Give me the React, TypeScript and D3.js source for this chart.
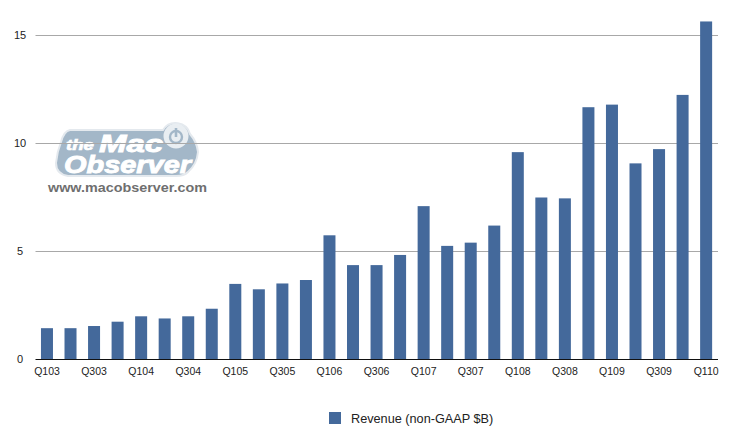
import React from "react";
import * as d3 from "d3";

const quarters = ["Q103","Q203","Q303","Q403","Q104","Q204","Q304","Q404","Q105","Q205","Q305","Q405","Q106","Q206","Q306","Q406","Q107","Q207","Q307","Q407","Q108","Q208","Q308","Q408","Q109","Q209","Q309","Q409","Q110"];
const revenue = [1.45,1.45,1.55,1.75,2.0,1.9,2.0,2.35,3.5,3.25,3.52,3.68,5.75,4.37,4.37,4.84,7.1,5.26,5.41,6.2,9.6,7.5,7.46,11.68,11.8,9.08,9.74,12.25,15.65];
const yTicks = [0,5,10,15];
const seriesName = "Revenue (non-GAAP $B)";
const sans = "Liberation Sans, Arial, sans-serif";

export default function App() {
  const x = d3.scaleBand<string>().domain(quarters).range([35.2, 717.9]).paddingInner(0.49).paddingOuter(0.245);
  const y = d3.scaleLinear().domain([0, 15]).range([359.5, 35.5]);
  const logoBlue = "#a3b7c8";
  return (
    <svg width={753} height={434} style={{ position: "absolute", left: 0, top: 0, background: "#fff" }}>
      {/* watermark */}
      <g>
        <path d="M70 130 L163 130 A15 15 0 0 1 190 134 Q197 142 198 152 Q197 164 188 172 Q184 176 176 176 L68 176 Q56 174 56 163 Q57 152 61 142 Q64 131 70 130 Z" fill={logoBlue} stroke="#e4e9ee" strokeWidth={2} />
        <circle cx={176} cy={136} r={12.5} fill="#e9eef2" />
        <circle cx={176} cy={137} r={6} fill="none" stroke={logoBlue} strokeWidth={2.4} />
        <line x1={176} y1={128} x2={176} y2={137} stroke={logoBlue} strokeWidth={2.6} />
        <text x={66} y={150} fill="#fff" stroke="#fff" strokeWidth={0.7} fontFamily={sans} fontWeight={700} fontStyle="italic" fontSize={15} textLength={28} lengthAdjust="spacingAndGlyphs">the</text>
        <text x={99} y={152} fill="#fff" stroke="#fff" strokeWidth={0.9} fontFamily={sans} fontWeight={700} fontStyle="italic" fontSize={24} textLength={64} lengthAdjust="spacingAndGlyphs">Mac</text>
        <text x={64} y={173} fill="#fff" stroke="#fff" strokeWidth={0.9} fontFamily={sans} fontWeight={700} fontStyle="italic" fontSize={24} textLength={127} lengthAdjust="spacingAndGlyphs">Observer</text>
        <text x={48} y={192} fill="#6f6f6f" fontFamily={sans} fontWeight={700} fontSize={13.5} textLength={159} lengthAdjust="spacingAndGlyphs">www.macobserver.com</text>
      </g>
      {/* grid */}
      {yTicks.slice(1).map((t) => (
        <line key={t} x1={35.5} x2={718} y1={y(t)} y2={y(t)} stroke="#a8a8a8" strokeWidth={1} />
      ))}
      {/* bars */}
      {quarters.map((q, i) => (
        <rect key={q} x={x(q)} width={x.bandwidth()} y={y(revenue[i])} height={y(0) - y(revenue[i])} fill="#44699b" />
      ))}
      {/* axis */}
      <line x1={35.5} x2={718} y1={y(0)} y2={y(0)} stroke="#111" strokeWidth={1} />
      {yTicks.map((t) => (
        <text key={t} x={20} y={y(t) + 0.5} dominantBaseline="middle" textAnchor="middle" fontFamily={sans} fontSize={11} fill="#222">{t}</text>
      ))}
      {quarters.map((q, i) => i % 2 === 0 ? (
        <text key={q} x={x(q)! + x.bandwidth() / 2} y={375} textAnchor="middle" fontFamily={sans} fontSize={10.5} fill="#222">{q}</text>
      ) : null)}
      {/* legend */}
      <rect x={329} y={412} width={12} height={12} fill="#44699b" />
      <text x={351} y={423} fontFamily={sans} fontSize={12.7} fill="#222">{seriesName}</text>
    </svg>
  );
}
